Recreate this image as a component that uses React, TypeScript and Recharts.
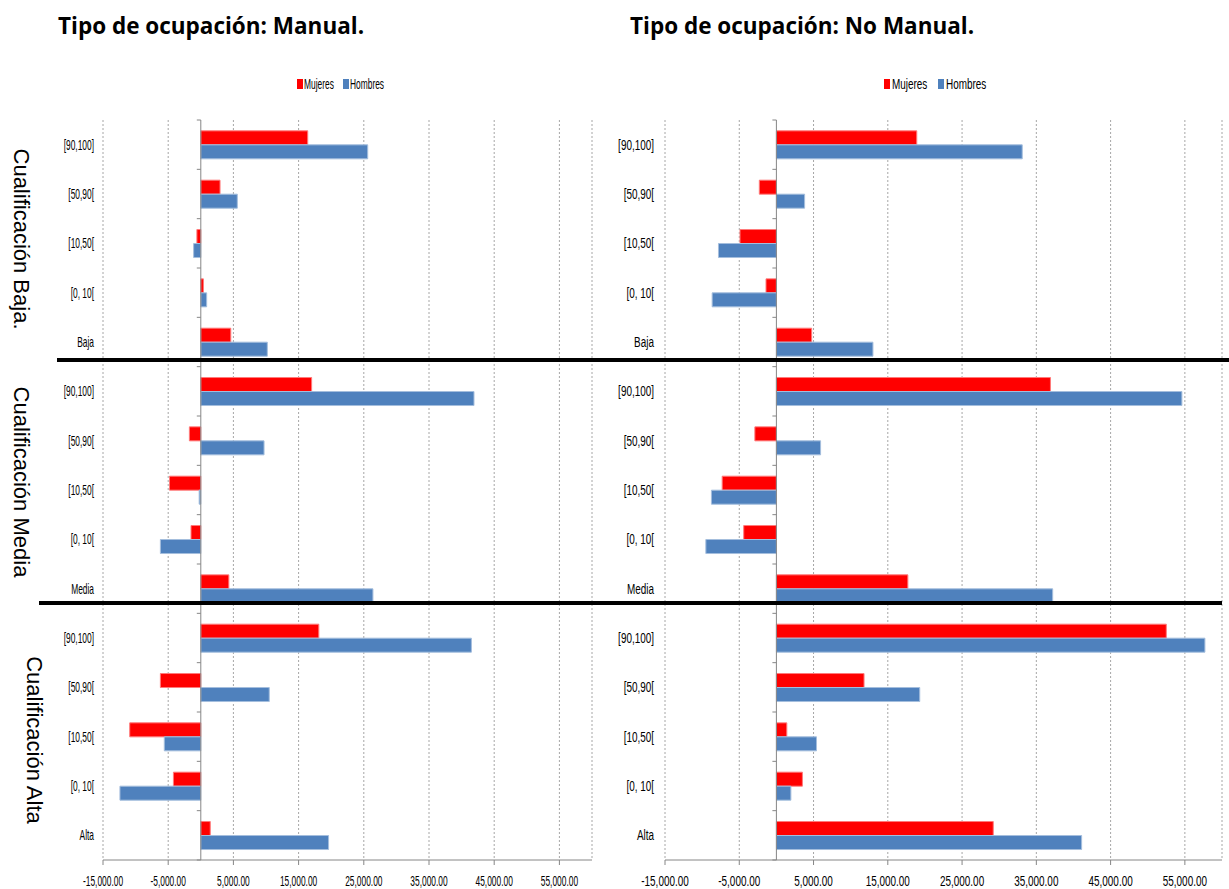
import React from "react"
import {
  BarChart,
  Bar,
  XAxis,
  YAxis,
  CartesianGrid,
  ReferenceLine,
  Legend,
} from "recharts"

// Rows from top to bottom: percentile bands per qualification level, then the level total.
const categories = [
  "[90,100]", "[50,90[", "[10,50[", "[0, 10[", "Baja",
  "[90,100]", "[50,90[", "[10,50[", "[0, 10[", "Media",
  "[90,100]", "[50,90[", "[10,50[", "[0, 10[", "Alta",
]

const manualMujeres = [
  16400, 2950, -600, 400, 4600,
  17000, -1750, -4800, -1500, 4300,
  18100, -6200, -10900, -4200, 1450,
]
const manualHombres = [
  25600, 5600, -1100, 900, 10200,
  41900, 9700, -250, -6200, 26400,
  41500, 10500, -5600, -12400, 19600,
]
const noManualMujeres = [
  18900, -2300, -4900, -1400, 4750,
  36900, -2900, -7300, -4400, 17700,
  52500, 11800, 1400, 3500, 29200,
]
const noManualHombres = [
  33100, 3800, -7800, -8650, 13000,
  54600, 5950, -8750, -9500, 37200,
  57700, 19300, 5400, 1950, 41100,
]

const seriesOrder = ["Mujeres", "Hombres"]
const xTicks = [-15000, -5000, 5000, 15000, 25000, 35000, 45000, 55000]
const xDomain: [number, number] = [-15000, 60000]

const RED = "#FF0000"
const BLUE = "#4F81BD"
const GRID = "#A6A6A6"
const AXIS = "#868686"
const LABEL_FONT = '"Liberation Sans", Arial, sans-serif'

const fmt = (v: number) =>
  v.toLocaleString("en-US", { minimumFractionDigits: 2, maximumFractionDigits: 2 })

// Labels are drawn horizontally condensed, like the old spreadsheet export.
function CategoryTick({ x, y, payload, squeeze }: any) {
  return (
    <g transform={`translate(${x},${y})`}>
      <text
        transform={`scale(${squeeze},1)`}
        textAnchor="end"
        dy="0.36em"
        fontSize={14}
        fontFamily={LABEL_FONT}
        fill="#000"
      >
        {payload.value}
      </text>
    </g>
  )
}

function ValueTick({ x, y, payload, squeeze }: any) {
  return (
    <g transform={`translate(${x},${y})`}>
      <text
        transform={`scale(${squeeze},1)`}
        textAnchor="middle"
        dy={19}
        fontSize={14}
        fontFamily={LABEL_FONT}
        fill="#000"
      >
        {fmt(payload.value)}
      </text>
    </g>
  )
}

// Vertical axis crossing at zero, with short tick marks between the rows.
function ZeroAxis(props: any) {
  const { x1 } = props
  const top = Math.min(props.y1, props.y2)
  const bottom = Math.max(props.y1, props.y2)
  const step = (bottom - top) / categories.length
  return (
    <g>
      <line x1={x1} y1={top} x2={x1} y2={bottom} stroke={AXIS} strokeWidth={1} />
      {categories.map((_, i) => (
        <line key={i} x1={x1 - 4} x2={x1} y1={top + i * step} y2={top + i * step} stroke={AXIS} />
      ))}
      <line x1={x1 - 4} x2={x1} y1={bottom} y2={bottom} stroke={AXIS} />
    </g>
  )
}

function LegendSwatches({ payload, squeeze, step, textOffset }: any) {
  const items = [...(payload ?? [])].sort(
    (a: any, b: any) => seriesOrder.indexOf(a.value) - seriesOrder.indexOf(b.value)
  )
  return (
    <svg
      width={step * items.length + 40}
      height={16}
      style={{ display: "block", overflow: "visible" }}
    >
      {items.map((entry: any, i: number) => (
        <g key={entry.value} transform={`translate(${i * step},0)`}>
          <rect x={0} y={2} width={6} height={10} fill={entry.color} />
          <text
            transform={`translate(${textOffset},7) scale(${squeeze},1)`}
            dy="0.36em"
            fontSize={14}
            fontFamily={LABEL_FONT}
            fill="#000"
          >
            {entry.value}
          </text>
        </g>
      ))}
    </svg>
  )
}

interface OccupationChartProps {
  mujeres: number[]
  hombres: number[]
  width: number
  axisWidth: number
  rightMargin: number
  labelGap: number
  squeeze: number
  legendLeft: number
  legendStep: number
  legendTextOffset: number
}

function OccupationChart({
  mujeres,
  hombres,
  width,
  axisWidth,
  rightMargin,
  labelGap,
  squeeze,
  legendLeft,
  legendStep,
  legendTextOffset,
}: OccupationChartProps) {
  const data = categories.map((label, i) => ({
    label,
    mujeres: mujeres[i],
    hombres: hombres[i],
  }))

  return (
    <BarChart
      width={width}
      height={889}
      data={data}
      layout="vertical"
      margin={{ top: 120, right: rightMargin, bottom: 4, left: 0 }}
      barCategoryGap="22%"
      barGap={0}
    >
      <CartesianGrid horizontal={false} stroke={GRID} strokeDasharray="2 2" />
      <XAxis
        type="number"
        domain={xDomain}
        ticks={xTicks}
        interval={0}
        height={25}
        stroke={AXIS}
        tickSize={5}
        tickMargin={2}
        tick={(p: any) => <ValueTick {...p} squeeze={squeeze} />}
      />
      <YAxis
        type="category"
        dataKey="label"
        width={axisWidth}
        interval={0}
        axisLine={false}
        tickLine={false}
        tickSize={0}
        tickMargin={labelGap}
        tick={(p: any) => <CategoryTick {...p} squeeze={squeeze} />}
      />
      <Legend
        layout="vertical"
        align="center"
        verticalAlign="middle"
        wrapperStyle={{ left: legendLeft, top: 77, width: "auto", height: "auto" }}
        content={(p: any) => (
          <LegendSwatches
            payload={p.payload}
            squeeze={squeeze}
            step={legendStep}
            textOffset={legendTextOffset}
          />
        )}
      />
      <Bar
        dataKey="mujeres"
        name="Mujeres"
        fill={RED}
        stroke="#FF7A7A"
        strokeWidth={1}
        isAnimationActive={false}
      />
      <Bar
        dataKey="hombres"
        name="Hombres"
        fill={BLUE}
        stroke="#A4BEDD"
        strokeWidth={1}
        isAnimationActive={false}
      />
      <ReferenceLine x={0} shape={ZeroAxis} />
    </BarChart>
  )
}

const titleStyle: React.CSSProperties = {
  position: "absolute",
  top: 11,
  fontFamily: '"Open Sans", sans-serif',
  fontWeight: 700,
  fontSize: 22.5,
  lineHeight: "30px",
  whiteSpace: "nowrap",
  color: "#000",
}

function GroupLabel({ text, cx, cy }: { text: string; cx: number; cy: number }) {
  return (
    <div
      style={{
        position: "absolute",
        left: cx,
        top: cy,
        transform: "translate(-50%, -50%) rotate(90deg)",
        fontFamily: LABEL_FONT,
        fontSize: 22,
        lineHeight: "22px",
        whiteSpace: "nowrap",
        color: "#000",
      }}
    >
      {text}
    </div>
  )
}

function Separator({ left, right, top }: { left: number; right: number; top: number }) {
  return (
    <div
      style={{
        position: "absolute",
        left,
        top,
        width: right - left,
        height: 4,
        background: "#000",
      }}
    />
  )
}

export default function App() {
  return (
    <div
      style={{
        position: "absolute",
        left: 0,
        top: 0,
        width: 1229,
        height: 889,
        background: "#fff",
        overflow: "hidden",
      }}
    >
      <div style={{ position: "absolute", left: 0, top: 0 }}>
        <OccupationChart
          mujeres={manualMujeres}
          hombres={manualHombres}
          width={600}
          axisWidth={103}
          rightMargin={8}
          labelGap={9}
          squeeze={0.6}
          legendLeft={297}
          legendStep={46}
          legendTextOffset={7}
        />
      </div>
      <div style={{ position: "absolute", left: 600, top: 0 }}>
        <OccupationChart
          mujeres={noManualMujeres}
          hombres={noManualHombres}
          width={629}
          axisWidth={65}
          rightMargin={7}
          labelGap={11}
          squeeze={0.71}
          legendLeft={284}
          legendStep={54}
          legendTextOffset={8}
        />
      </div>

      <div style={{ ...titleStyle, left: 58 }}>Tipo de ocupación: Manual.</div>
      <div style={{ ...titleStyle, left: 630 }}>Tipo de ocupación: No Manual.</div>

      <GroupLabel text="Cualificación Baja." cx={21} cy={239} />
      <GroupLabel text="Cualificación Media" cx={21} cy={482} />
      <GroupLabel text="Cualificación Alta" cx={34} cy={740} />

      <Separator left={57} right={1229} top={358} />
      <Separator left={39} right={1222} top={601} />
    </div>
  )
}
